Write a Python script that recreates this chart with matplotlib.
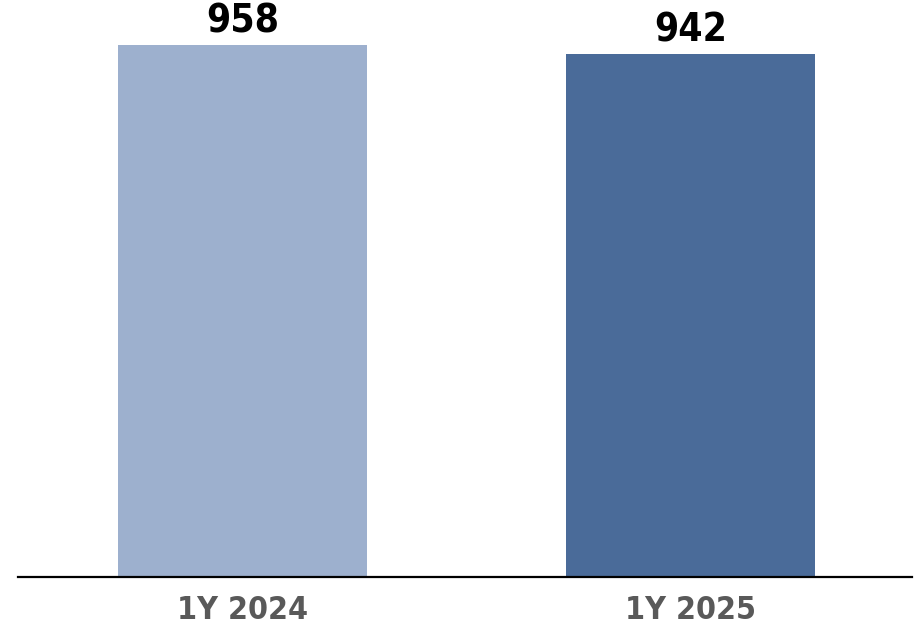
import matplotlib
matplotlib.use('Agg')
import matplotlib.pyplot as plt

categorias = ['1Y 2024', '1Y 2025']
valores = [958, 942]
colores = ['#9DB0CE', '#4A6B99']

plt.rcParams['font.family'] = ['Liberation Sans Narrow', 'DejaVu Sans Condensed', 'DejaVu Sans']

fig = plt.figure(figsize=(9.15, 6.29), dpi=100)
ax = fig.add_axes([18 / 915, 52 / 629, 894 / 915, 577 / 629])

x = range(len(categorias))
barras = ax.bar(x, valores, width=0.556, color=colores)

# etiquetas de valor sobre las barras
for xi, v in zip(x, valores):
    ax.text(xi, v + 8, str(v), ha='center', va='bottom',
            fontsize=28, fontweight='bold', fontstretch='condensed', color='black')

ax.set_xlim(-0.501, 1.494)
ax.set_ylim(0, 1039)
ax.set_xticks(list(x))
ax.set_xticklabels(categorias, fontsize=23, fontweight='bold', fontstretch='condensed', color='#595959')
ax.tick_params(axis='x', length=0, pad=13)
ax.set_yticks([])

for lado in ['top', 'right', 'left']:
    ax.spines[lado].set_visible(False)
ax.spines['bottom'].set_linewidth(1.6)
ax.spines['bottom'].set_color('black')

fig.savefig('out.png', dpi=100)
